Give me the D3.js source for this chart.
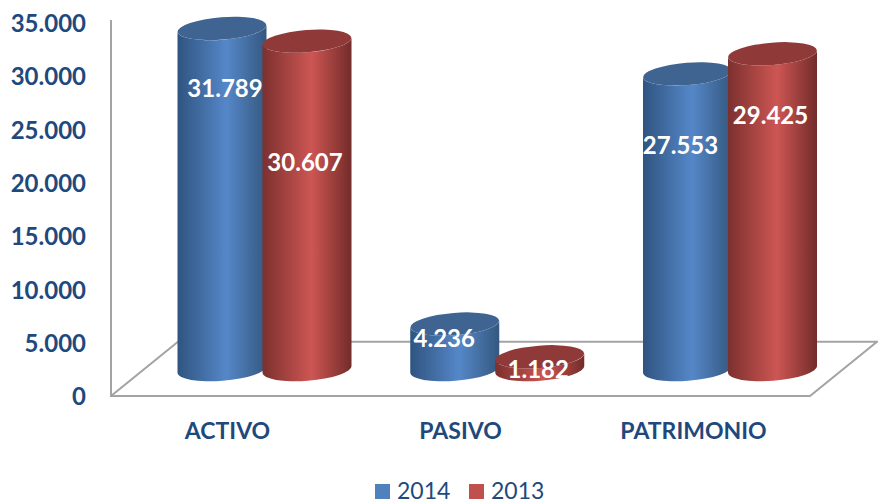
<!DOCTYPE html>
<html>
<head>
<meta charset="utf-8">
<script src="https://cdn.jsdelivr.net/npm/d3@7/dist/d3.min.js"></script>
<style>
html, body { margin: 0; padding: 0; background: #fff; overflow: hidden; }
text { font-family: Lato, "Open Sans", sans-serif; }
</style>
</head>
<body>
<div id="chart"></div>
<script>
const categories = ["ACTIVO", "PASIVO", "PATRIMONIO"];
const seriesNames = ["2014", "2013"];
const values2014 = [31789, 4236, 27553];
const values2013 = [30607, 1182, 29425];
const yTicks = [0, 5000, 10000, 15000, 20000, 25000, 30000, 35000];

const width = 878, height = 499;
const navy = "#1f497d", wall = "#a3a3a3";

const svg = d3.select("#chart").append("svg")
    .attr("width", width)
    .attr("height", height)
    .style("display", "block");

const defs = svg.append("defs");

// shading across the cylinders
const shades = [
    { id: "cyl2014", edge: "#2f5480", mid: "#5587c8", end: "#34587f", top: "#3f6491", key: "#4f81bd" },
    { id: "cyl2013", edge: "#7c302e", mid: "#cd5653", end: "#732c2a", top: "#8f3a38", key: "#c0504d" }
];
shades.forEach(s => {
    const g = defs.append("linearGradient").attr("id", s.id);
    g.append("stop").attr("offset", "0%").attr("stop-color", s.edge);
    g.append("stop").attr("offset", "55%").attr("stop-color", s.mid);
    g.append("stop").attr("offset", "100%").attr("stop-color", s.end);
});

// scales
const y = d3.scaleLinear().domain([0, 35000]).range([395, 22]);
// bars stand back on the floor so they have their own vertical scale
const barY = d3.scaleLinear().domain([0, 35000]).range([369.5, -6]);
const x = d3.scalePoint().domain(categories).range([264.5, 730]);
const labelX = d3.scalePoint().domain(categories).range([227, 693]);
const offset = d3.scalePoint().domain(seriesNames).range([-42.5, 42.5]);

// floor and wall
const floorRight = 810, depthX = 67;
const y5k = y(5000);
svg.append("path")
    .attr("fill", "none")
    .attr("stroke", wall)
    .attr("stroke-width", 2)
    .attr("d", `M111,20 V${y(0) + 1} H${floorRight} L${floorRight + depthX},${y5k} H${111 + depthX} L111,${y(0) + 1}`);

// axes
const dotted = d3.formatLocale({ thousands: ".", grouping: [3], decimal: ",", currency: ["", ""] }).format(",");

const yAxis = svg.append("g")
    .attr("transform", "translate(111,2)")
    .call(d3.axisLeft(y).tickValues(yTicks).tickFormat(dotted).tickSize(0).tickPadding(25));
yAxis.select(".domain").remove();
yAxis.selectAll("text")
    .attr("fill", navy)
    .style("font-size", "24px")
    .style("font-weight", 700);

const xAxis = svg.append("g")
    .attr("transform", "translate(0,431)")
    .call(d3.axisBottom(labelX).tickSize(0).tickPadding(0));
xAxis.select(".domain").remove();
xAxis.selectAll("text")
    .attr("dy", "0.35em")
    .attr("fill", navy)
    .style("font-size", "23px")
    .style("font-weight", 700);

// cylinders
const rx = 44.5, ry = 11.2, tilt = -4.5;
const lean = rx * Math.sin(-tilt * Math.PI / 180);

function sidePath(cx, top, base) {
    return `M${cx - rx},${top + lean} L${cx - rx},${base + lean}` +
        ` A${rx},${ry} ${tilt} 0 0 ${cx + rx},${base - lean}` +
        ` L${cx + rx},${top - lean}` +
        ` A${rx},${ry} ${tilt} 0 1 ${cx - rx},${top + lean} Z`;
}

// where each value label sits, relative to the top of its cylinder
const labelNudge = {
    "2014": [[3, 60], [-10.5, 15], [-7, 72]],
    "2013": [[-2, 121], [-1.5, 13], [-2, 62]]
};

const series = [
    { name: "2014", values: values2014, shade: shades[0] },
    { name: "2013", values: values2013, shade: shades[1] }
];

const labels = [];

categories.forEach((cat, i) => {
    series.forEach(s => {
        const cx = x(cat) + offset(s.name);
        const top = barY(s.values[i]);
        const g = svg.append("g");
        g.append("path")
            .attr("d", sidePath(cx, top, barY(0)))
            .attr("fill", `url(#${s.shade.id})`);
        g.append("ellipse")
            .attr("cx", cx)
            .attr("cy", top)
            .attr("rx", rx)
            .attr("ry", ry)
            .attr("transform", `rotate(${tilt} ${cx} ${top})`)
            .attr("fill", s.shade.top);
        const n = labelNudge[s.name][i];
        labels.push({ x: cx + n[0], y: top + n[1], text: dotted(s.values[i]) });
    });
});

svg.append("g").selectAll("text")
    .data(labels)
    .enter()
    .append("text")
    .attr("x", d => d.x)
    .attr("y", d => d.y)
    .attr("dy", "0.35em")
    .attr("text-anchor", "middle")
    .attr("fill", "#fff")
    .style("font-size", "24px")
    .style("font-weight", 700)
    .text(d => d.text);

// legend
const legendX = d3.scalePoint().domain(seriesNames).range([375, 469]);
const legend = svg.append("g").selectAll("g")
    .data(series)
    .enter()
    .append("g")
    .attr("transform", d => `translate(${legendX(d.name)},484)`);
legend.append("rect")
    .attr("width", 15)
    .attr("height", 15)
    .attr("fill", d => d.shade.key);
legend.append("text")
    .attr("x", 22)
    .attr("y", 15)
    .attr("fill", navy)
    .style("font-size", "23px")
    .text(d => d.name);
</script>
</body>
</html>
